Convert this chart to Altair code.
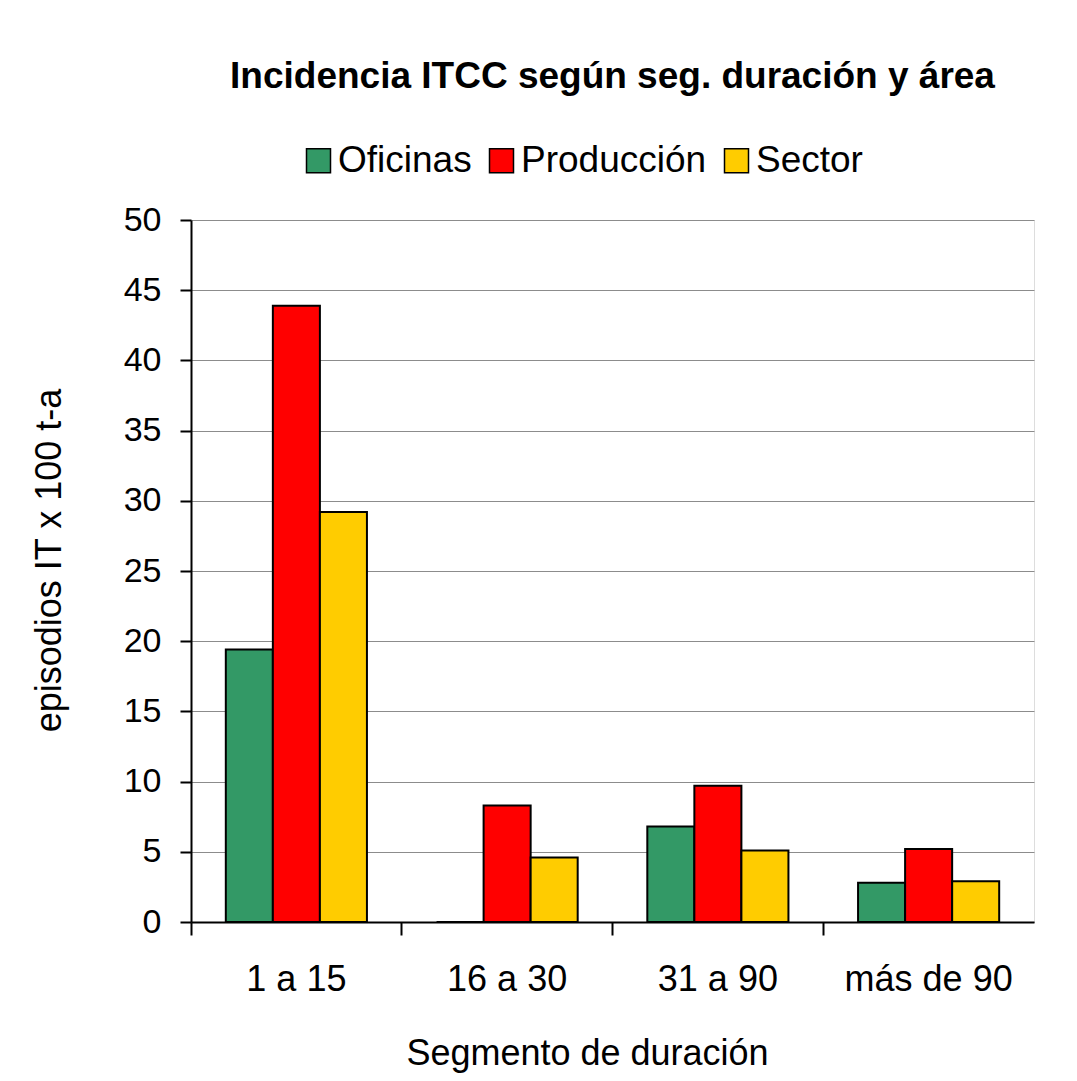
import altair as alt
import pandas as pd

segmentos = ["1 a 15", "16 a 30", "31 a 90", "más de 90"]
areas = ["Oficinas", "Producción", "Sector"]
oficinas = [19.4, 0.0, 6.8, 2.8]
produccion = [43.9, 8.3, 9.7, 5.2]
sector = [29.2, 4.6, 5.1, 2.9]
colores = ["#339966", "#FF0000", "#FFCC00"]
y_ticks = [0, 5, 10, 15, 20, 25, 30, 35, 40, 45, 50]

rows = []
for serie, vals in zip(areas, [oficinas, produccion, sector]):
    for seg, v in zip(segmentos, vals):
        rows.append({"segmento": seg, "area": serie, "valor": v})
df = pd.DataFrame(rows)

SANS = "Liberation Sans, Arial, Helvetica"

chart = (
    alt.Chart(df)
    .mark_bar(stroke="black", strokeWidth=2)
    .encode(
        x=alt.X(
            "segmento:N",
            sort=segmentos,
            scale=alt.Scale(paddingInner=0, paddingOuter=0),
            axis=alt.Axis(
                title="Segmento de duración",
                labelAngle=0,
                bandPosition=0,
                labelFont=SANS,
                labelFontSize=36,
                labelColor="black",
                labelPadding=27,
                labelLimit=400,
                tickSize=13,
                tickWidth=2,
                tickColor="black",
                domainColor="black",
                domainWidth=2,
                titleFont=SANS,
                titleFontSize=36,
                titleFontWeight="normal",
                titleColor="black",
                titleX=396,
                titleY=131,
                titleBaseline="middle",
                grid=False,
            ),
        ),
        xOffset=alt.XOffset(
            "area:N", sort=areas, scale=alt.Scale(paddingInner=0, paddingOuter=0.74)
        ),
        y=alt.Y(
            "valor:Q",
            scale=alt.Scale(domain=[0, 50], nice=False),
            axis=alt.Axis(
                title="episodios IT x 100 t-a",
                values=y_ticks,
                labelFont=SANS,
                labelFontSize=34,
                labelColor="black",
                labelPadding=19,
                tickSize=11,
                tickWidth=2,
                tickColor="black",
                domainColor="black",
                domainWidth=2,
                gridColor="#8c8c8c",
                gridWidth=1,
                titleFont=SANS,
                titleFontSize=36,
                titleFontWeight="normal",
                titleColor="black",
                titleX=-142,
                titleY=340,
                titleBaseline="middle",
            ),
        ),
        color=alt.Color(
            "area:N",
            sort=areas,
            scale=alt.Scale(domain=areas, range=colores),
            legend=alt.Legend(
                title=None,
                orient="none",
                direction="horizontal",
                legendX=109,
                legendY=-78,
                symbolType="square",
                symbolSize=576,
                symbolStrokeColor="black",
                symbolStrokeWidth=1.5,
                symbolOpacity=1,
                labelFont=SANS,
                labelFontSize=37,
                labelColor="black",
                labelOffset=1,
                columnPadding=11,
                labelLimit=400,
            ),
        ),
    )
    .properties(
        width=843,
        height=702,
        title=alt.TitleParams(
            "Incidencia ITCC según seg. duración y área",
            font=SANS,
            fontSize=37,
            fontWeight="bold",
            color="black",
            anchor="middle",
            offset=46,
        ),
        autosize=alt.AutoSizeParams(type="none"),
        padding={"left": 183, "top": 212, "right": 35, "bottom": 151},
    )
    .configure_view(stroke="#8c8c8c", strokeWidth=1)
    .configure(background="white")
)

chart.save("out.html", embed_options={"renderer": "svg", "actions": False})
